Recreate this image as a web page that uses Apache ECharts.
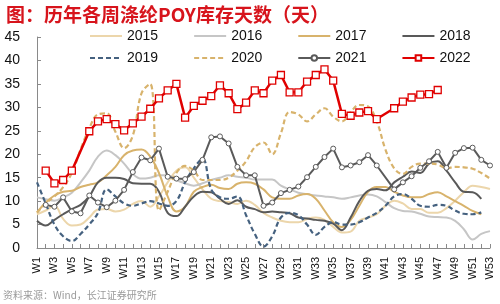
<!DOCTYPE html>
<html><head><meta charset="utf-8">
<script src="https://cdn.jsdelivr.net/npm/echarts@6/dist/echarts.min.js"></script>
<style>html,body{margin:0;padding:0;background:#fff}#c{width:500px;height:304px}</style>
</head><body><div id="c"></div>
<script>
const categories = ['W1','W2','W3','W4','W5','W6','W7','W8','W9','W10','W11','W12','W13','W14','W15','W16','W17','W18','W19','W20','W21','W22','W23','W24','W25','W26','W27','W28','W29','W30','W31','W32','W33','W34','W35','W36','W37','W38','W39','W40','W41','W42','W43','W44','W45','W46','W47','W48','W49','W50','W51','W52','W53'];
const yTicks = [0,5,10,15,20,25,30,35,40,45];
const s2015 = [7.2,8.0,9.0,6.2,4.8,5.0,6.5,8.2,8.3,7.8,8.2,9.4,10.0,8.8,11.0,14.0,16.5,17.2,15.0,12.5,10.5,10.0,9.8,9.4,10.1,9.2,7.5,6.5,5.8,5.5,5.5,6.2,6.5,6.0,4.5,3.3,3.5,5.8,6.5,7.2,9.0,10.1,9.5,8.3,8.3,7.5,7.5,8.5,10.1,11.9,13.3,13.0,12.6];
const s2016 = [10.8,10.4,10.1,10.8,11.8,14.0,16.5,19.5,20.8,19.8,18.0,15.8,14.8,15.0,15.5,15.5,14.5,13.8,13.3,13.8,14.5,15.0,15.5,15.2,15.0,14.6,14.6,14.6,13.3,12.5,11.8,11.5,11.2,11.0,10.8,10.5,10.8,11.2,11.4,11.0,9.8,8.5,7.9,7.8,7.3,6.7,6.6,6.5,5.8,4.0,1.8,3.0,3.6];
const s2017 = [7.6,9.7,11.2,12.0,12.2,13.0,13.5,14.0,15.5,17.3,19.8,20.8,21.0,19.5,16.0,11.0,7.8,8.8,12.0,13.0,13.5,12.8,12.6,13.7,14.0,13.7,12.5,10.8,10.5,10.5,11.2,11.5,10.5,8.0,5.5,4.5,6.0,9.0,12.0,13.0,13.0,12.0,11.2,10.8,10.8,11.5,11.9,11.0,10.0,9.0,7.9,7.2,null];
const s2018 = [5.8,4.8,6.0,7.2,8.3,9.2,11.0,14.0,15.0,15.0,14.7,13.8,13.7,13.7,12.0,7.5,6.8,8.8,11.0,12.0,11.9,10.5,9.4,10.2,8.8,8.3,7.6,7.8,7.6,7.4,6.5,6.3,6.0,5.8,5.2,3.8,6.5,10.0,12.2,12.6,12.3,14.0,15.2,16.3,16.0,18.0,18.5,16.5,14.0,12.0,11.9,10.5,null];
const s2019 = [14.0,9.5,5.0,2.5,1.5,3.0,5.0,7.5,12.5,11.0,9.5,9.0,9.5,10.0,9.5,9.0,10.0,14.0,17.0,19.0,12.5,10.8,10.5,11.0,7.0,3.0,0.3,2.5,6.5,7.5,7.0,5.0,2.8,4.5,5.5,5.0,5.0,5.5,6.5,7.5,9.0,11.0,11.5,10.5,9.0,8.8,9.2,9.0,8.0,7.3,7.2,7.6,null];
const s2020 = [7.5,9.5,11.0,13.0,16.0,21.0,25.5,28.5,28.7,24.8,21.3,24.0,33.0,35.0,8.0,12.0,16.0,17.5,16.5,14.5,14.5,14.5,15.0,16.5,18.5,21.5,22.5,20.0,24.5,29.0,28.5,27.0,28.5,29.8,28.0,27.0,29.0,30.5,30.2,27.0,21.0,17.0,15.8,17.3,18.0,18.0,17.8,17.0,17.3,17.2,16.9,16.0,14.8];
const s2021 = [null,9.2,8.8,10.8,7.8,7.4,11.2,9.7,8.7,10.1,12.4,16.2,19.3,18.7,21.2,15.2,14.8,14.7,16.2,18.8,23.6,23.8,22.3,17.3,15.5,15.5,9.0,9.7,11.7,12.4,13.1,15.1,17.3,19.4,21.2,17.2,17.6,18.3,19.8,17.6,null,12.5,14.0,15.3,17.1,18.5,20.5,17.1,20.3,21.3,21.4,18.8,17.6];
const s2022 = [null,16.5,13.8,14.5,16.5,null,24.9,27.0,27.5,26.4,25.1,26.6,28.0,29.7,31.9,33.6,35.0,27.8,30.3,31.4,32.4,34.7,33.0,29.6,31.0,33.6,33.0,35.7,36.9,33.2,33.2,35.5,36.9,38.1,35.7,28.6,28.2,28.9,29.2,27.5,null,29.8,31.2,32.1,32.7,32.8,33.7,null,null,null,null,null,null];

const chart = echarts.init(document.getElementById('c'));
const smoothLine = (name, data, color, width, type) => ({
  name, type: 'line', data, smooth: 0.4, symbol: 'none', connectNulls: false,
  lineStyle: {color, width, type: type || 'solid'}, itemStyle: {color}, z: 2
});
const noMark = n => ({name: n, itemStyle: {opacity: 0}});
const legText = {fontFamily: 'Liberation Sans', fontSize: 14, color: '#111'};
chart.setOption({
  animation: false,
  title: {text: '图：历年各周涤纶POY库存天数（天）', left: 1, top: 0,
    textStyle: {fontFamily: 'Noto Sans CJK SC', fontWeight: 'bold', fontSize: 19, color: '#d7141c'}},
  graphic: [{type: 'text', left: 3, top: 290,
    style: {text: '资料来源：Wind，长江证券研究所', fontFamily: 'Noto Sans CJK SC', fontSize: 10, fill: '#9a9a9a'}}],
  legend: [
    {data: [noMark('2015'), noMark('2016'), noMark('2017'), noMark('2018')], left: 84, top: 24,
     itemWidth: 32, itemHeight: 7, itemGap: 35, textStyle: legText},
    {data: [noMark('2019'), noMark('2020'), '2021', '2022'], left: 84, top: 46,
     itemWidth: 32, itemHeight: 7, itemGap: 35, textStyle: legText}
  ],
  grid: {left: 37, right: 10, top: 37, bottom: 56},
  xAxis: {type: 'category', data: categories, boundaryGap: false,
    axisLine: {lineStyle: {color: '#8a8a8a'}},
    axisTick: {inside: true, length: 4, interval: 0, lineStyle: {color: '#8a8a8a'}},
    axisLabel: {interval: 1, rotate: 90, margin: 9, fontFamily: 'Liberation Sans', fontSize: 11, color: '#111'},
    splitLine: {show: false}},
  yAxis: {type: 'value', min: 0, max: 45, interval: 5,
    axisLine: {show: true, lineStyle: {color: '#8a8a8a'}},
    axisTick: {show: true, inside: true, length: 4, lineStyle: {color: '#8a8a8a'}},
    axisLabel: {margin: 17, fontFamily: 'Liberation Sans', fontSize: 14, color: '#111',
      formatter: v => yTicks.includes(v) ? String(v) : ''},
    splitLine: {show: false}},
  series: [
    smoothLine('2015', s2015, '#ecd6ab', 2),
    smoothLine('2016', s2016, '#c6c6c6', 2),
    smoothLine('2017', s2017, '#d8b36c', 2),
    smoothLine('2018', s2018, '#595959', 2),
    smoothLine('2019', s2019, '#45617f', 2.2, [5, 3]),
    smoothLine('2020', s2020, '#d8b36c', 2.2, [5, 3]),
    {name: '2021', type: 'line', data: s2021, connectNulls: true, showAllSymbol: true, symbol: 'circle', symbolSize: 5,
     lineStyle: {color: '#5a5a5a', width: 2}, itemStyle: {color: '#fff', borderColor: '#5a5a5a', borderWidth: 1}, z: 3},
    {name: '2022', type: 'line', data: s2022, connectNulls: true, showAllSymbol: true, symbol: 'rect', symbolSize: 7,
     lineStyle: {color: '#e00000', width: 2.5}, itemStyle: {color: '#fff', borderColor: '#e00000', borderWidth: 1.3}, z: 4}
  ]
});
</script></body></html>
